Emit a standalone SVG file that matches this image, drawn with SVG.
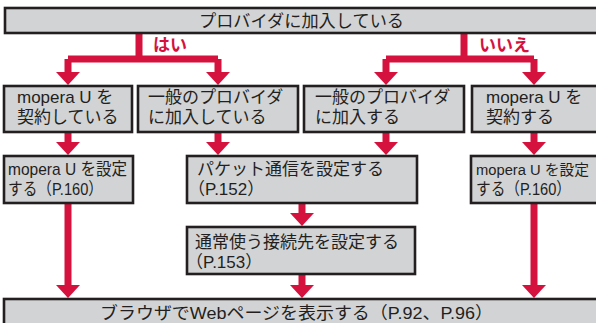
<svg xmlns="http://www.w3.org/2000/svg" xmlns:xlink="http://www.w3.org/1999/xlink" width="596" height="323" viewBox="0 0 596 323">
<style>
.box{fill:#d2d3d5;stroke:#231f20;stroke-width:2.6}
.t{font-family:"Liberation Sans","Noto Sans CJK JP",sans-serif;font-size:17px;fill:#231f20}
.lbl{font-family:"Liberation Sans","Noto Sans CJK JP",sans-serif;font-size:17px;font-weight:bold;fill:#d5123e}
.sh{fill:none;stroke:#d5123e;stroke-width:7;stroke-linejoin:miter}
.hd{fill:#d5123e}
</style>
<defs>
<path id="head" d="M-12,-13 L12,-13 L0,0 Z"/>
</defs>
<rect width="596" height="323" fill="#ffffff"/>
<g id="connectors">
<path class="sh" d="M139,33 V59 M68,59 H218 M68,59 V73 M218,59 V73"/>
<path class="sh" d="M464,33 V59 M386,59 H534 M386,59 V73 M534,59 V73"/>
<path class="sh" d="M68,132 V143 M218,132 V143 M386,132 V143 M534,132 V143"/>
<path class="sh" d="M302,203 V214 M302,274 V286 M68,203 V286 M534,203 V286"/>
<g class="hd">
<use xlink:href="#head" x="68" y="85"/>
<use xlink:href="#head" x="218" y="85"/>
<use xlink:href="#head" x="386" y="85"/>
<use xlink:href="#head" x="534" y="85"/>
<use xlink:href="#head" x="68" y="155"/>
<use xlink:href="#head" x="218" y="155"/>
<use xlink:href="#head" x="386" y="155"/>
<use xlink:href="#head" x="534" y="155"/>
<use xlink:href="#head" x="302" y="226"/>
<use xlink:href="#head" x="302" y="298"/>
<use xlink:href="#head" x="68" y="298"/>
<use xlink:href="#head" x="534" y="298"/>
</g>
<text class="lbl" x="153" y="51">はい</text>
<text class="lbl" x="479" y="51">いいえ</text>
</g>
<g id="n-top">
<rect class="box" x="5" y="8" width="594" height="25"/>
<text class="t" x="199" y="27" textLength="205" lengthAdjust="spacingAndGlyphs">プロバイダに加入している</text>
</g>
<g id="n-mopera-yes">
<rect class="box" x="4" y="86" width="128" height="46"/>
<text class="t" x="17" y="103">mopera U を</text>
<text class="t" x="17" y="123">契約している</text>
</g>
<g id="n-general-yes">
<rect class="box" x="138" y="86" width="160" height="46"/>
<text class="t" x="148" y="103">一般のプロバイダ</text>
<text class="t" x="148" y="123">に加入している</text>
</g>
<g id="n-general-no">
<rect class="box" x="304" y="86" width="160" height="46"/>
<text class="t" x="315" y="103">一般のプロバイダ</text>
<text class="t" x="315" y="123">に加入する</text>
</g>
<g id="n-mopera-no">
<rect class="box" x="472" y="86" width="128" height="46"/>
<text class="t" x="486" y="103">mopera U を</text>
<text class="t" x="486" y="123">契約する</text>
</g>
<g id="n-set-mopera-left">
<rect class="box" x="4" y="156" width="129" height="47"/>
<text class="t" x="8" y="175" textLength="119" lengthAdjust="spacingAndGlyphs">mopera U を設定</text>
<text class="t" x="8" y="195" textLength="95" lengthAdjust="spacingAndGlyphs">する（P.160）</text>
</g>
<g id="n-packet">
<rect class="box" x="187" y="156" width="230" height="47"/>
<text class="t" x="197" y="175">パケット通信を設定する</text>
<text class="t" x="188" y="195">（P.152）</text>
</g>
<g id="n-default">
<rect class="box" x="187" y="227" width="228" height="47"/>
<text class="t" x="195" y="248">通常使う接続先を設定する</text>
<text class="t" x="186" y="268">（P.153）</text>
</g>
<g id="n-set-mopera-right">
<rect class="box" x="471" y="156" width="129" height="47"/>
<text class="t" x="476" y="175" style="font-size:15.3px" textLength="113" lengthAdjust="spacingAndGlyphs">mopera U を設定</text>
<text class="t" x="476" y="195" textLength="95" lengthAdjust="spacingAndGlyphs">する（P.160）</text>
</g>
<g id="n-browser">
<rect class="box" x="4" y="299" width="596" height="30"/>
<text class="t" x="100" y="319" textLength="393" lengthAdjust="spacingAndGlyphs">ブラウザでWebページを表示する（P.92、P.96）</text>
</g>
</svg>
